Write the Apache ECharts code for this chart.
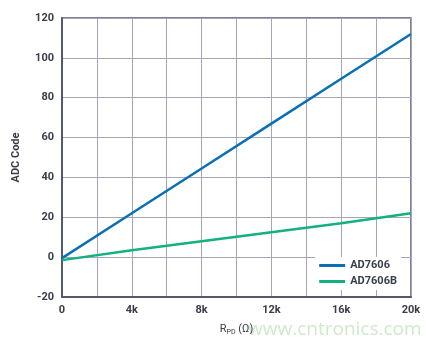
<!DOCTYPE html>
<html lang="en">
<head>
  <meta charset="UTF-8">
  <title>ADC Code vs RPD</title>
  <style>
    html, body { margin: 0; padding: 0; background: #fff; }
  </style>
</head>
<body>
  <div id="chart" style="width: 431px; height: 346px;"></div>
  <script src="https://cdn.jsdelivr.net/npm/echarts@6/dist/echarts.min.js"></script>
  <script>
    // values
    const rpd = [0, 4000, 8000, 12000, 16000, 20000];
    const ad7606 = [-0.5, 22, 44.5, 67, 89.5, 112];
    const ad7606b = [-1.5, 3.5, 8, 12.5, 17, 22];
    const seriesNames = ["AD7606", "AD7606B"];

    const chart = echarts.init(document.getElementById("chart"), null, { renderer: 'canvas' });

    const axisText = { color: "#3a3d4a", fontWeight: "bold", fontSize: 11, fontFamily: "Roboto" };

    chart.setOption({
      animation: false,
      grid: {
        left: 62, right: 20, top: 18, bottom: 49,
        show: true, borderColor: "#555a6a", borderWidth: 1.5
      },
      legend: {
        right: 30, bottom: 56,
        orient: "vertical",
        itemWidth: 26, itemHeight: 3, itemGap: 5,
        backgroundColor: "#fff",
        padding: [3, 4, 3, 4],
        icon: "rect",
        textStyle: { color: "#3a3d4a", fontWeight: "bold", fontSize: 11, fontFamily: "Roboto" },
        data: seriesNames
      },
      xAxis: {
        type: "value",
        min: 0, max: 20000, interval: 2000,
        name: "R{sub|PD} (Ω)",
        nameLocation: "middle",
        nameGap: 26,
        nameTextStyle: {
          color: "#3a3d4a", fontSize: 11, fontFamily: "Roboto",
          rich: { sub: { fontSize: 7, verticalAlign: "bottom", padding: [6, 0, 0, 0], color: "#3a3d4a" } }
        },
        axisLine: { onZero: false, lineStyle: { color: "#555a6a", width: 2 } },
        axisTick: { show: false },
        axisLabel: Object.assign({
          margin: 8,
          formatter: v => v === 0 ? "0" : (v % 4000 === 0 ? (v / 1000) + "k" : "")
        }, axisText),
        splitLine: { lineStyle: { color: "#a3a6b8", width: 1 } }
      },
      yAxis: {
        type: "value",
        min: -20, max: 120, interval: 20,
        name: "ADC Code",
        nameLocation: "middle",
        nameGap: 40,
        nameTextStyle: { color: "#3a3d4a", fontWeight: "bold", fontSize: 11, fontFamily: "Roboto" },
        axisLine: { show: true, onZero: false, lineStyle: { color: "#555a6a", width: 2 } },
        axisTick: { show: false },
        axisLabel: Object.assign({ margin: 8 }, axisText),
        splitLine: { lineStyle: { color: "#a3a6b8", width: 1 } }
      },
      graphic: [{
        type: "text",
        left: 248, top: 320,
        silent: true,
        style: { text: "www.cntronics.com", fill: "rgba(150, 205, 140, 0.45)", fontSize: 19, fontFamily: "Open Sans" }
      }],
      series: [
        {
          name: seriesNames[0], type: "line",
          data: rpd.map((x, i) => [x, ad7606[i]]),
          showSymbol: false,
          lineStyle: { color: "#0b6fb5", width: 2.5 },
          itemStyle: { color: "#0b6fb5" }
        },
        {
          name: seriesNames[1], type: "line",
          data: rpd.map((x, i) => [x, ad7606b[i]]),
          showSymbol: false,
          lineStyle: { color: "#13b17f", width: 2.5 },
          itemStyle: { color: "#13b17f" }
        }
      ]
    });
  </script>
</body>
</html>
